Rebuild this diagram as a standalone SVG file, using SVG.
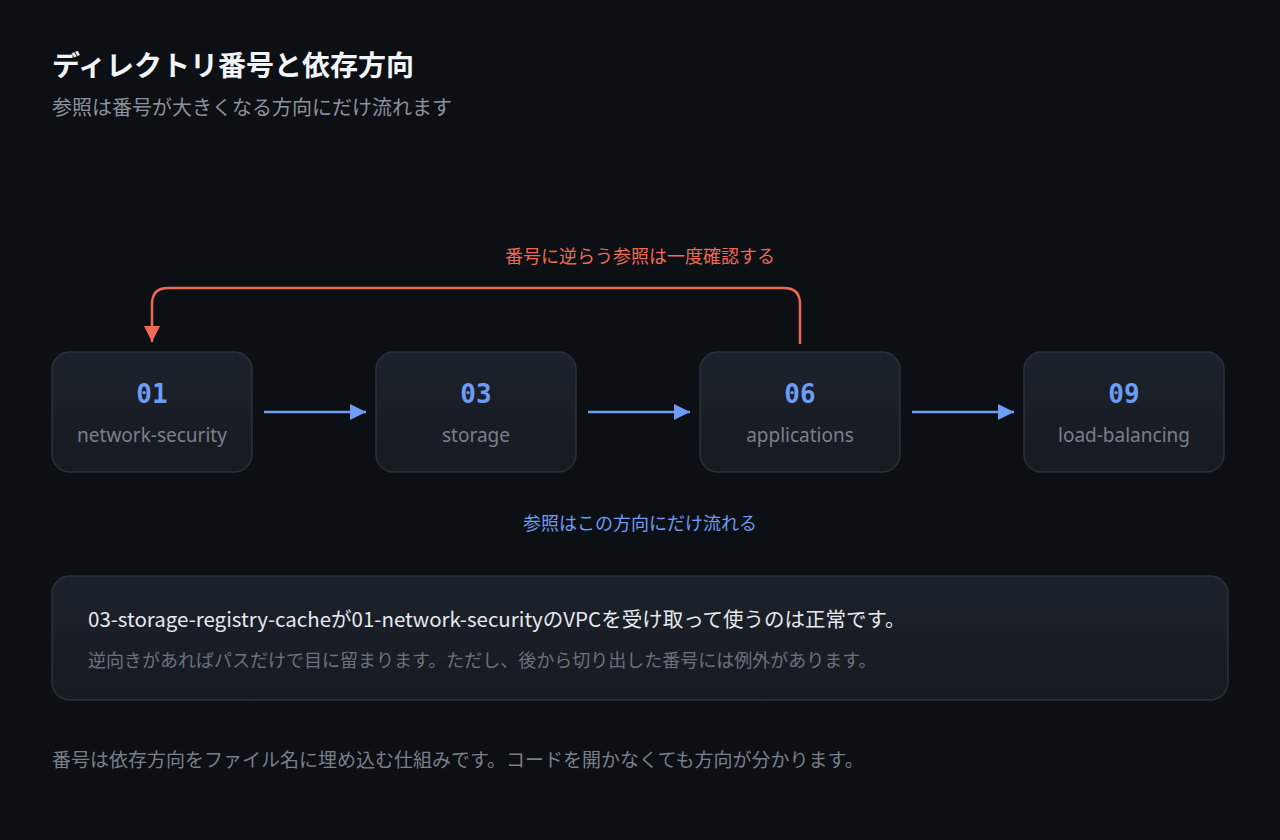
<svg xmlns="http://www.w3.org/2000/svg" width="1280" height="840" viewBox="0 0 1280 840">
<defs>
<style>
.jp{font-family:"Noto Sans CJK JP","Noto Sans",sans-serif}
.node rect{fill:url(#ng);stroke:#2c323c;stroke-width:1.5}
.num{font-family:"DejaVu Sans Mono",monospace;font-size:26px;font-weight:bold;fill:#6e9bf5;text-anchor:middle}
.lbl{font-family:"Noto Sans",sans-serif;font-size:19px;fill:#7a808a;text-anchor:middle}
.fw{stroke:#6e9bf5;stroke-width:2.5;fill:none}
</style>
<linearGradient id="ng" x1="0" y1="0" x2="0" y2="1"><stop offset="0" stop-color="#1c222b"/><stop offset="1" stop-color="#161a21"/></linearGradient>
<marker id="ab" viewBox="0 0 10 10" refX="10" refY="5" markerWidth="18" markerHeight="16" markerUnits="userSpaceOnUse" orient="auto"><path d="M0,0L10,5L0,10z" fill="#6e9bf5"/></marker>
<marker id="ar" viewBox="0 0 10 10" refX="10" refY="5" markerWidth="18" markerHeight="16" markerUnits="userSpaceOnUse" orient="auto"><path d="M0,0L10,5L0,10z" fill="#ee6a55"/></marker>
</defs>
<rect width="1280" height="840" fill="#0c0f14"/>
<text x="52" y="76" class="jp" font-size="28" font-weight="bold" fill="#f2f4f7">ディレクトリ番号と依存方向</text>
<text x="52" y="115" class="jp" font-size="20" fill="#8c929c">参照は番号が大きくなる方向にだけ流れます</text>
<g id="connectors">
<line x1="264" y1="412" x2="366" y2="412" class="fw" marker-end="url(#ab)"/>
<line x1="588" y1="412" x2="690" y2="412" class="fw" marker-end="url(#ab)"/>
<line x1="912" y1="412" x2="1014" y2="412" class="fw" marker-end="url(#ab)"/>
<path d="M800 344V304Q800 288 784 288H168Q152 288 152 304V342" stroke="#ee6a55" stroke-width="2.5" fill="none" marker-end="url(#ar)"/>
<text x="640" y="263" class="jp" font-size="18" fill="#ee6a55" text-anchor="middle">番号に逆らう参照は一度確認する</text>
<text x="640" y="530" class="jp" font-size="18" fill="#6e9bf5" text-anchor="middle">参照はこの方向にだけ流れる</text>
</g>
<g id="n01" class="node"><rect x="52" y="352" width="200" height="120" rx="18"/><text x="152" y="403" class="num">01</text><text x="152" y="442" class="lbl">network-security</text></g>
<g id="n03" class="node"><rect x="376" y="352" width="200" height="120" rx="18"/><text x="476" y="403" class="num">03</text><text x="476" y="442" class="lbl">storage</text></g>
<g id="n06" class="node"><rect x="700" y="352" width="200" height="120" rx="18"/><text x="800" y="403" class="num">06</text><text x="800" y="442" class="lbl">applications</text></g>
<g id="n09" class="node"><rect x="1024" y="352" width="200" height="120" rx="18"/><text x="1124" y="403" class="num">09</text><text x="1124" y="442" class="lbl">load-balancing</text></g>
<g id="note">
<rect x="52" y="576" width="1176" height="124" rx="18" fill="url(#ng)" stroke="#2c323c" stroke-width="1.5"/>
<text x="88" y="627" class="jp" font-size="20.5" fill="#e6e9ee">03-storage-registry-cacheが01-network-securityのVPCを受け取って使うのは正常です。</text>
<text x="88" y="667" class="jp" font-size="18" fill="#6c727c">逆向きがあればパスだけで目に留まります。ただし、後から切り出した番号には例外があります。</text>
</g>
<text x="52" y="767" class="jp" font-size="19" fill="#7a808a">番号は依存方向をファイル名に埋め込む仕組みです。コードを開かなくても方向が分かります。</text>
</svg>
